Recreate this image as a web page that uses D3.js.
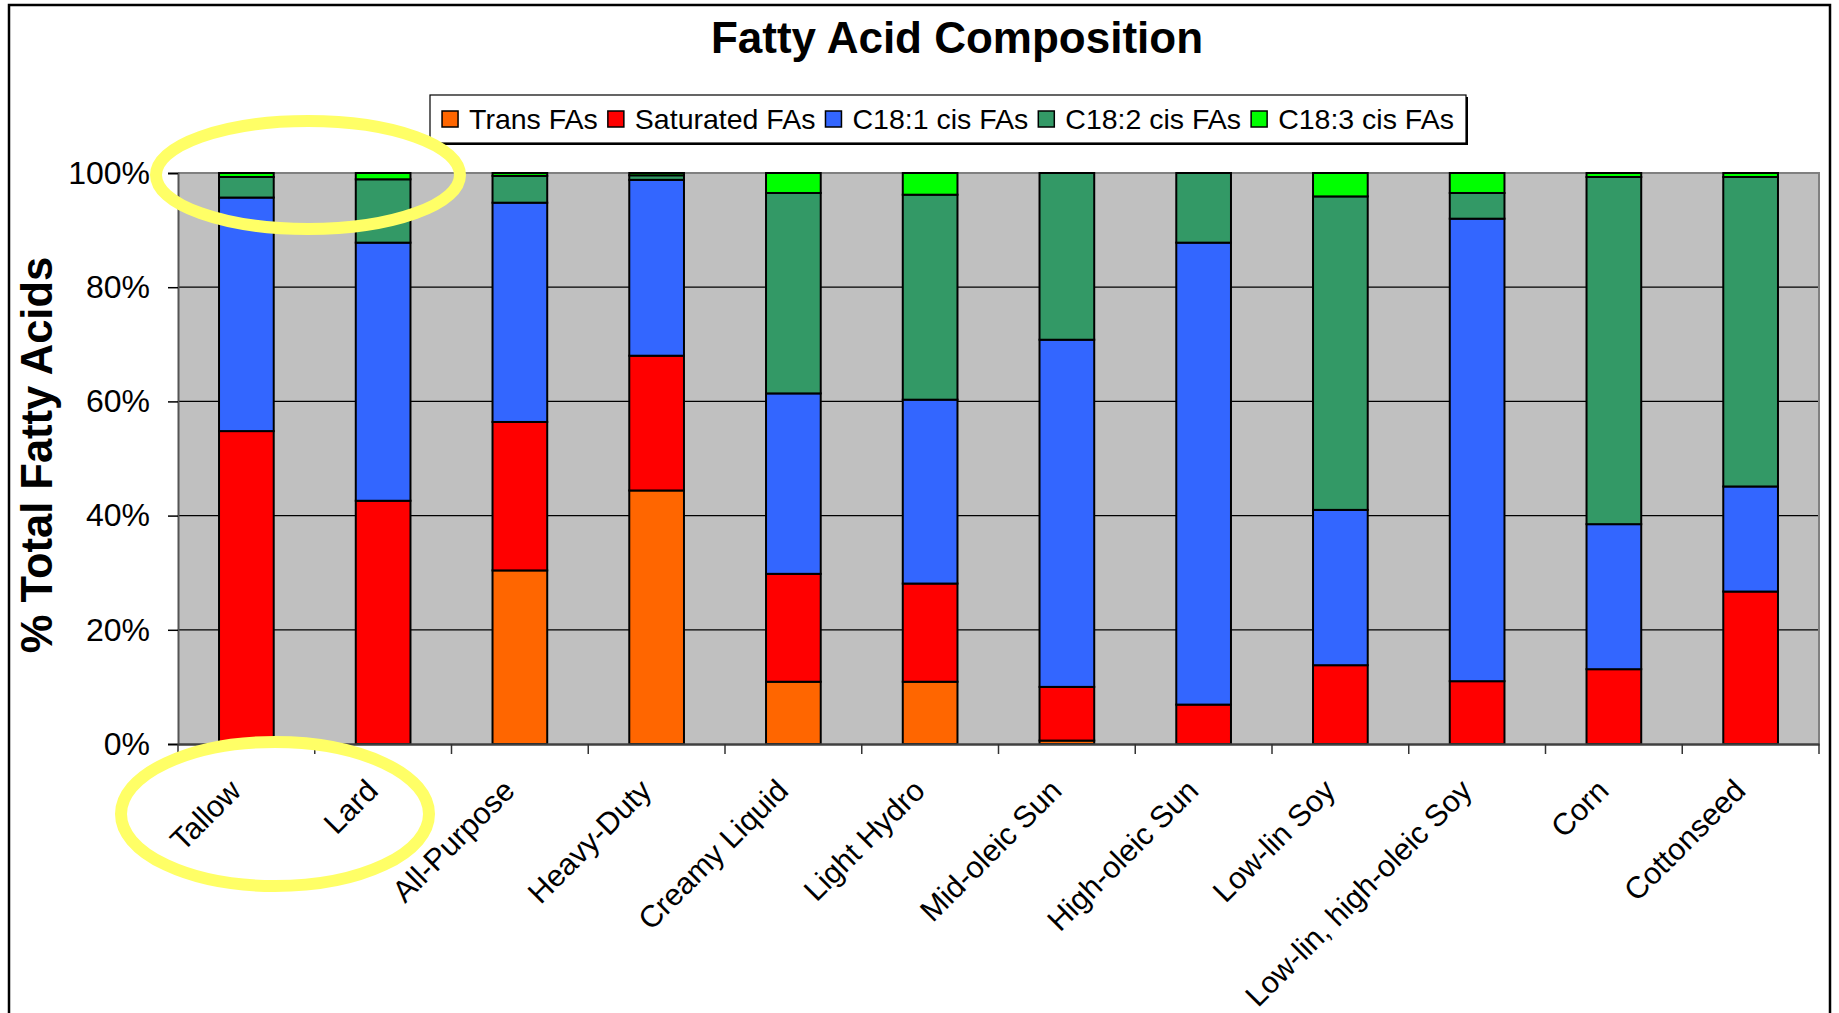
<!DOCTYPE html>
<html><head><meta charset="utf-8">
<script src="https://cdn.jsdelivr.net/npm/d3@7"></script>
<style>
html,body{margin:0;padding:0;background:#fff;}
svg{display:block;font-family:"Liberation Sans",Arial,sans-serif;}
</style></head>
<body>
<svg id="chart" width="1839" height="1013"></svg>
<script>
const categories = ["Tallow","Lard","All-Purpose","Heavy-Duty","Creamy Liquid","Light Hydro","Mid-oleic Sun","High-oleic Sun","Low-lin Soy","Low-lin, high-oleic Soy","Corn","Cottonseed"];
const seriesNames = ["Trans FAs","Saturated FAs","C18:1 cis FAs","C18:2 cis FAs","C18:3 cis FAs"];
const transFAs     = [0,    0,    30.4, 44.4, 10.9, 10.9, 0.6,  0,    0,    0,    0,    0];
const saturatedFAs = [54.8, 42.6, 26.0, 23.6, 18.9, 17.2, 9.4,  6.9,  13.8, 11.0, 13.1, 26.7];
const c181cisFAs   = [40.9, 45.2, 38.4, 30.8, 31.6, 32.2, 60.8, 80.9, 27.2, 81.0, 25.4, 18.4];
const c182cisFAs   = [3.6,  11.1, 4.7,  0.8,  35.1, 35.9, 29.2, 12.2, 54.9, 4.5,  60.8, 54.2];
const c183cisFAs   = [0.7,  1.1,  0.5,  0.4,  3.5,  3.8,  0,    0,    4.1,  3.5,  0.7,  0.7];
const yTicks = [0,20,40,60,80,100];
const colors = ["#FF6600","#FF0000","#3366FF","#339966","#00FF00"];
const title = "Fatty Acid Composition";
const yTitle = "% Total Fatty Acids";

const seriesValues = [transFAs, saturatedFAs, c181cisFAs, c182cisFAs, c183cisFAs];
const table = categories.map((c,i)=>{const o={cat:c}; seriesNames.forEach((s,k)=>o[s]=seriesValues[k][i]); return o;});
const stacked = d3.stack().keys(seriesNames)(table);

const svg = d3.select("#chart");
const P = {left:178, right:1819, top:173, bottom:744};

// outer border
svg.append("rect").attr("x",9).attr("y",5).attr("width",1821).attr("height",1040)
  .attr("fill","#fff").attr("stroke","#000").attr("stroke-width",2.5);

const x = d3.scaleBand().domain(categories).range([P.left,P.right]).paddingInner(0.6).paddingOuter(0.3);
const xb = d3.scaleBand().domain(categories).range([P.left,P.right]);
const y = d3.scaleLinear().domain([0,100]).range([P.bottom,P.top]);

// title
svg.append("text").attr("x",957).attr("y",53).attr("text-anchor","middle")
  .attr("font-size",44).attr("font-weight","bold").attr("fill","#000").text(title);

// plot bg
svg.append("rect").attr("x",P.left).attr("y",P.top).attr("width",P.right-P.left).attr("height",P.bottom-P.top).attr("fill","#C0C0C0");

// gridlines
svg.append("g").selectAll("line").data(yTicks.filter(t=>t>0&&t<100)).join("line")
  .attr("x1",P.left).attr("x2",P.right).attr("y1",d=>y(d)).attr("y2",d=>y(d))
  .attr("stroke","#000").attr("stroke-width",1.2);

// plot border top/right
svg.append("path").attr("d",`M${P.left},${P.top}H${P.right}V${P.bottom}`).attr("fill","none").attr("stroke","#808080").attr("stroke-width",2);

// bars
svg.append("g").selectAll("g").data(stacked).join("g").attr("fill",(d,i)=>colors[i])
  .selectAll("rect").data(d=>d).join("rect")
  .attr("x",d=>x(d.data.cat)).attr("width",x.bandwidth())
  .attr("y",d=>y(d[1])).attr("height",d=>Math.max(0,y(d[0])-y(d[1])))
  .attr("stroke","#000").attr("stroke-width",2);

// y axis
const yAxis = d3.axisLeft(y).tickValues(yTicks).tickFormat(d=>d+"%").tickSize(10).tickPadding(18);
const gy = svg.append("g").attr("transform",`translate(${P.left},0)`).call(yAxis);
gy.select(".domain").attr("stroke","#555").attr("stroke-width",2);
gy.selectAll(".tick line").attr("stroke","#000").attr("stroke-width",1.5);
gy.selectAll(".tick text").attr("font-size",32).attr("fill","#000").attr("font-family","Liberation Sans, Arial, sans-serif");

// x axis
const xAxis = d3.axisBottom(xb).tickSize(0).tickFormat("");
const gx = svg.append("g").attr("transform",`translate(0,${P.bottom})`).call(xAxis);
gx.select(".domain").attr("stroke","#404040").attr("stroke-width",2.5);
const bounds = categories.map(c=>xb(c)).concat([P.right]);
svg.append("g").selectAll("line").data(bounds).join("line")
  .attr("x1",d=>d).attr("x2",d=>d).attr("y1",P.bottom).attr("y2",P.bottom+10)
  .attr("stroke","#333").attr("stroke-width",1.5);

// legend
const lg = svg.append("g");
const lgBox = lg.append("rect").attr("fill","#fff").attr("stroke","#000").attr("stroke-width",1.2);
const lgShadow = lg.append("path").attr("fill","none").attr("stroke","#000").attr("stroke-width",2);
let cx = 0;
const items = lg.append("g");
seriesNames.forEach((s,i)=>{
  items.append("rect").attr("x",cx).attr("y",-8).attr("width",16).attr("height",16)
    .attr("fill",colors[i]).attr("stroke","#000").attr("stroke-width",1.5);
  const t = items.append("text").attr("x",cx+27).attr("y",0).attr("dy","0.35em")
    .attr("font-size",28.5).attr("fill","#000").text(s);
  cx += 27 + t.node().getComputedTextLength() + 10;
});
cx -= 10;
const lgCenter = 948, lgY = 119;
items.attr("transform",`translate(${lgCenter-cx/2},${lgY})`);
const bx0 = 430, bx1 = 1466, by0 = 95, by1 = 143;
lgBox.attr("x",bx0).attr("y",by0).attr("width",bx1-bx0).attr("height",by1-by0);
lgShadow.attr("d",`M${bx0+2},${by1+1}H${bx1+1}V${by0+2}`);

// y title
svg.append("text").attr("transform",`translate(52,455) rotate(-90)`).attr("text-anchor","middle")
  .attr("font-size",43.5).attr("font-weight","bold").attr("fill","#000").text(yTitle);

// highlight ellipses (annotations)
svg.append("ellipse").attr("cx",308).attr("cy",175).attr("rx",152).attr("ry",54)
  .attr("fill","none").attr("stroke","#FFFF66").attr("stroke-width",12);
svg.append("ellipse").attr("cx",275).attr("cy",814).attr("rx",154).attr("ry",72)
  .attr("fill","none").attr("stroke","#FFFF66").attr("stroke-width",12);

// x labels
svg.append("g").selectAll("text").data(categories).join("text")
  .attr("transform",d=>`translate(${xb(d)+xb.bandwidth()/2-11},${P.bottom+41}) rotate(-45)`)
  .attr("text-anchor","end").attr("dy","0.35em").attr("font-size",30.5).attr("fill","#000").text(d=>d);
</script>
</body></html>
